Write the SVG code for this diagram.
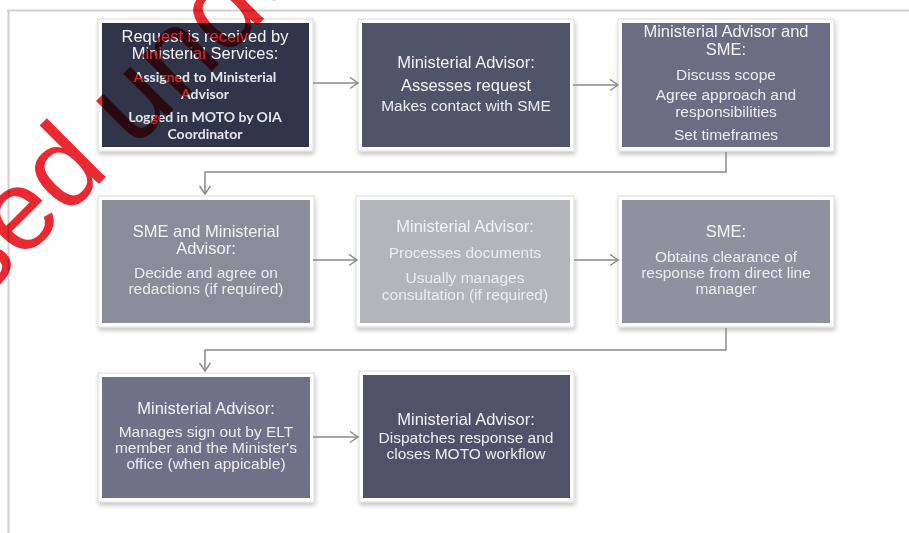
<svg xmlns="http://www.w3.org/2000/svg" width="909" height="533" viewBox="0 0 909 533">
  <defs>
    <marker id="arr" markerUnits="userSpaceOnUse" markerWidth="12" markerHeight="14" refX="9" refY="6" orient="auto">
      <path d="M1,0.5 L9,6 L1,11.5" fill="none" stroke="#8a8a8a" stroke-width="1.5"/>
    </marker>
    <filter id="sh" x="-10%" y="-10%" width="125%" height="130%">
      <feDropShadow dx="1" dy="3" stdDeviation="2" flood-color="#000" flood-opacity="0.22"/>
    </filter>
  </defs>
  <style>
    .frame{fill:#fff;stroke:#dcdcdc;stroke-width:1;filter:url(#sh)}
    .t{font-family:"Liberation Sans",Arial,sans-serif;text-anchor:middle;fill:#f2f2f4}
    .h{font-size:16.5px}
    .b{font-size:15.5px;fill:#ececf0}
    .c{font-family:Lato,"Open Sans",sans-serif;font-weight:bold;font-size:14px;text-anchor:middle;fill:#e4e4ea}
    .ln{fill:none;stroke:#8a8a8a;stroke-width:1.5}
    .wm{font-family:"Liberation Sans",Arial,sans-serif;font-size:115px;fill:#ea2a30;mix-blend-mode:multiply}
  </style>
  <rect width="909" height="533" fill="#fff"/>
  <path d="M7,10.5 H909 M8.5,10 V533" fill="none" stroke="#cfcfcf" stroke-width="2"/>

  <g id="n1">
    <rect class="frame" x="98" y="19" width="215" height="132"/>
    <rect x="102" y="23" width="207" height="124" fill="#30354a"/>
    <text class="t h" x="205" y="42">Request is received by</text>
    <text class="t h" x="205" y="59">Ministerial Services:</text>
    <text class="c" x="205" y="82">Assigned to Ministerial</text>
    <text class="c" x="205" y="99">Advisor</text>
    <text class="c" x="205" y="122">Logged in MOTO by OIA</text>
    <text class="c" x="205" y="139">Coordinator</text>
  </g>
  <g id="n2">
    <rect class="frame" x="358" y="19" width="216" height="132"/>
    <rect x="362" y="23" width="208" height="124" fill="#505469"/>
    <text class="t h" x="466" y="68">Ministerial Advisor:</text>
    <text class="t h" x="466" y="91" font-size="16">Assesses request</text>
    <text class="t b" x="466" y="111" font-size="15">Makes contact with  SME</text>
  </g>
  <g id="n3">
    <rect class="frame" x="618" y="19" width="216" height="132"/>
    <rect x="622" y="23" width="208" height="124" fill="#6b6e83"/>
    <text class="t h" x="726" y="37">Ministerial Advisor and</text>
    <text class="t h" x="726" y="55">SME:</text>
    <text class="t b" x="726" y="80">Discuss scope</text>
    <text class="t b" x="726" y="100">Agree approach and</text>
    <text class="t b" x="726" y="117">responsibilities</text>
    <text class="t b" x="726" y="140">Set timeframes</text>
  </g>
  <g id="n4">
    <rect class="frame" x="98" y="196" width="216" height="131"/>
    <rect x="102" y="200" width="208" height="123" fill="#8a8c99"/>
    <text class="t h" x="206" y="237">SME and Ministerial</text>
    <text class="t h" x="206" y="254">Advisor:</text>
    <text class="t b" x="206" y="278">Decide and agree on</text>
    <text class="t b" x="206" y="294">redactions (if required)</text>
  </g>
  <g id="n5">
    <rect class="frame" x="356" y="196" width="218" height="131"/>
    <rect x="360" y="200" width="210" height="123" fill="#b4b5bb"/>
    <text class="t h" x="465" y="232">Ministerial Advisor:</text>
    <text class="t b" x="465" y="258">Processes documents</text>
    <text class="t b" x="465" y="283">Usually  manages</text>
    <text class="t b" x="465" y="300">consultation (if required)</text>
  </g>
  <g id="n6">
    <rect class="frame" x="618" y="196" width="216" height="131"/>
    <rect x="622" y="200" width="208" height="123" fill="#8f919f"/>
    <text class="t h" x="726" y="237">SME:</text>
    <text class="t b" x="726" y="262">Obtains clearance of</text>
    <text class="t b" x="726" y="278">response from direct line</text>
    <text class="t b" x="726" y="294">manager</text>
  </g>
  <g id="n7">
    <rect class="frame" x="98" y="373" width="216" height="129"/>
    <rect x="102" y="377" width="208" height="121" fill="#6e7187"/>
    <text class="t h" x="206" y="414">Ministerial Advisor:</text>
    <text class="t b" x="206" y="437">Manages sign out by ELT</text>
    <text class="t b" x="206" y="453">member and the Minister's</text>
    <text class="t b" x="206" y="469">office (when appicable)</text>
  </g>
  <g id="n8">
    <rect class="frame" x="359" y="371" width="215" height="131"/>
    <rect x="363" y="375" width="207" height="123" fill="#4f5268"/>
    <text class="t h" x="466" y="425">Ministerial Advisor:</text>
    <text class="t b" x="466" y="443">Dispatches response and</text>
    <text class="t b" x="466" y="459">closes MOTO workflow</text>
  </g>

  <g id="connectors">
    <path class="ln" d="M313,83 H358" marker-end="url(#arr)"/>
    <path class="ln" d="M573,85 H618" marker-end="url(#arr)"/>
    <path class="ln" d="M726,152 V172 H205 V194" marker-end="url(#arr)"/>
    <path class="ln" d="M313,260 H357" marker-end="url(#arr)"/>
    <path class="ln" d="M574,260 H618" marker-end="url(#arr)"/>
    <path class="ln" d="M726,328 V350 H205 V371" marker-end="url(#arr)"/>
    <path class="ln" d="M313,437 H358" marker-end="url(#arr)"/>
  </g>

  <text class="wm" transform="translate(-20,303) rotate(-45)">sed under</text>
</svg>
